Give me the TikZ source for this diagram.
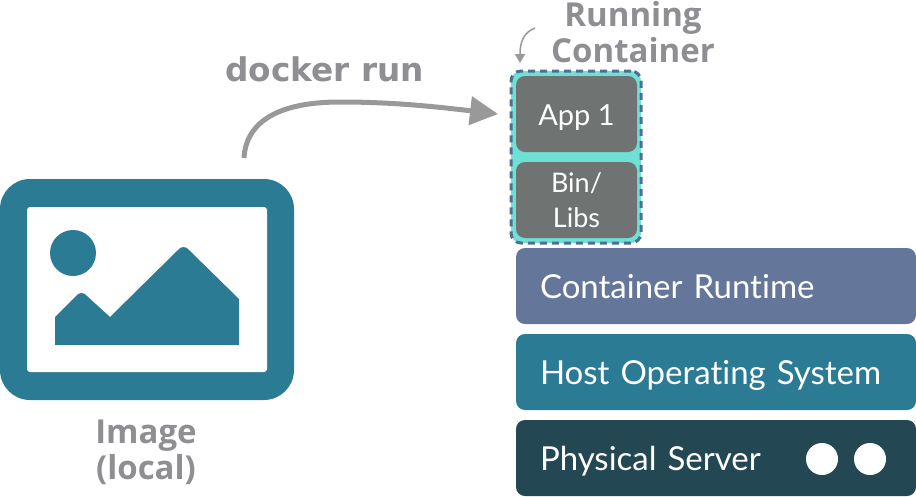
\documentclass[tikz,border=0pt]{standalone}
\usepackage{fontspec}
\setmainfont[Ligatures=NoCommon]{Lato}
\newfontfamily\labelfont{Open Sans}
\newfontfamily\cmdfont{DejaVu Sans}
\usetikzlibrary{arrows.meta}
\definecolor{tealdark}{HTML}{2C7B94}
\definecolor{navy}{HTML}{234753}
\definecolor{slate}{HTML}{647699}
\definecolor{stone}{HTML}{6F7372}
\definecolor{aqua}{HTML}{6FE0D3}
\definecolor{dashblue}{HTML}{4F6E93}
\definecolor{labelgray}{HTML}{8E8E93}
\definecolor{arrowgray}{HTML}{999999}
\tikzset{
	layer/.style={anchor=north west,rounded corners=9pt,outer sep=0pt,inner xsep=24pt,inner ysep=0pt,minimum height=76pt,text width=352pt,align=left,text=white,text height=28pt,text depth=4pt,font=\fontsize{33}{33}\selectfont},
	part/.style={anchor=north west,rounded corners=9pt,outer sep=0pt,inner sep=0pt,minimum width=121pt,minimum height=76pt,fill=stone,align=center,text=white},
	dot/.style={circle,fill=white,minimum size=32pt,inner sep=0pt,outer sep=0pt},
	caption/.style={text=labelgray,align=center,font=\labelfont\bfseries\fontsize{33}{36}\selectfont},
}
\begin{document}
\begin{tikzpicture}[x=1pt,y=-1pt]
	\useasboundingbox (0,0) rectangle (916,496);
	% image icon
	\fill[tealdark,rounded corners=30pt] (0,179) rectangle (294,400);
	\fill[white,rounded corners=3pt] (27,207) rectangle (267,372);
	\fill[tealdark] (73,253) circle (23);
	\fill[tealdark] (55,317) -- (76,296) .. controls (79,292) and (84,292) .. (87,296) -- (110,317) -- (178,250) .. controls (181,246) and (186,246) .. (189,250) -- (239,299) -- (239,345) -- (55,345) -- cycle;
	\node[caption] (image) at (146,452) {Image\\(local)};
	% container
	\node[anchor=north west,fill=aqua,draw=dashblue,line width=3pt,dash pattern=on 7pt off 5pt,rounded corners=10pt,minimum width=130pt,minimum height=172pt,inner sep=0pt,outer sep=0pt] (container) at (511,71) {};
	\node[part,text height=24pt,text depth=2pt,font=\fontsize{29}{29}\selectfont] (app) at (516,76) {App 1};
	\node[part,font=\fontsize{27}{35}\selectfont] (libs) at (516,162) {Bin/\\Libs};
	\node[caption] (running) at (633,32) {Running\\Container};
	% stack
	\node[layer,fill=slate] (runtime) at (516,248) {Container Runtime};
	\node[layer,fill=tealdark] (hostos) at (516,334) {Host Operating System};
	\node[layer,fill=navy] (server) at (516,420) {Physical Server};
	\node[dot] (dota) at (822,459) {};
	\node[dot] (dotb) at (870,459) {};
	% arrows
	\node[text=labelgray,font=\cmdfont\bfseries\fontsize{32.7}{33}\selectfont] (run) at (324.5,69) {docker run};
	\coordinate (start) at (244,158);
	\coordinate (finish) at (498,114);
	\coordinate (bend) at (535,28);
	\coordinate (drop) at (520,63);
	\draw[arrowgray,line width=5pt,-{Triangle[length=28pt,width=28pt]}] (start) .. controls (246,122) and (278,102) .. (340,102) .. controls (390,102) and (430,106) .. (finish);
	\draw[arrowgray,line width=1.5pt,-{Triangle[length=9pt,width=10pt]}] (bend) .. controls (525,32) and (520,40) .. (drop);
\end{tikzpicture}
\end{document}
